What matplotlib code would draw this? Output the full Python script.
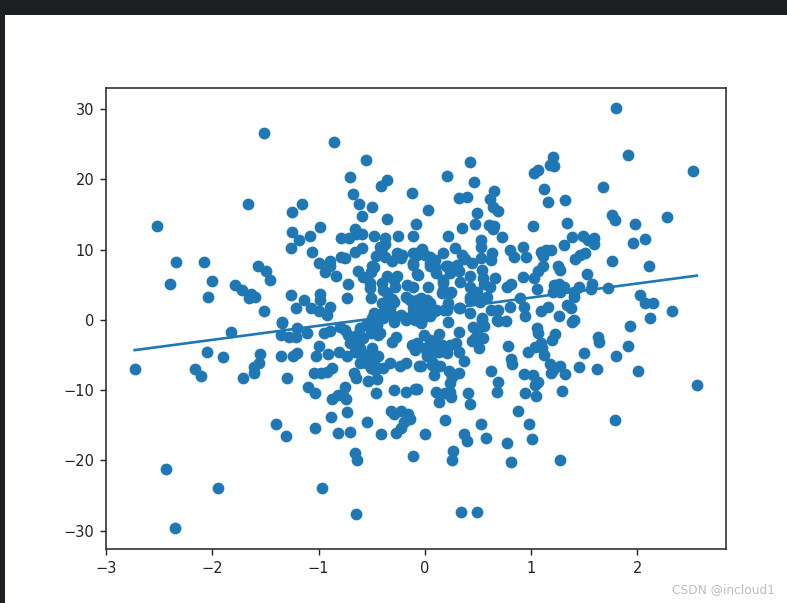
import matplotlib
matplotlib.use("Agg")
import matplotlib.pyplot as plt
from matplotlib.patches import Rectangle

# points, one list per quadrant
upper_left = [
    (-1.51,26.6),(-0.85,25.3),(-0.55,22.7),(-0.70,20.3),(-0.36,19.9),(-0.41,19.1),(-0.12,18.0),(-0.68,17.9),
    (-0.62,16.5),(-0.50,16.1),(-1.66,16.5),(-1.16,16.5),(-1.25,15.4),(-0.59,14.8),(-0.36,14.3),(-0.08,13.6),
    (-2.52,13.4),(-0.99,13.2),(-1.25,12.5),(-0.66,12.9),(-0.59,12.2),(-1.08,11.9),(-1.18,11.3),(-0.79,11.6),
    (-0.71,11.6),(-0.65,12.2),(-0.48,11.9),(-0.37,11.7),(-0.25,12.0),(-0.11,12.0),(-1.26,10.2),(-1.06,9.7),
    (-0.59,10.2),(-0.66,9.7),(-0.37,10.8),(-0.40,10.2),(-2.34,8.25),(-2.08,8.25),(-0.79,9.0),(-0.75,8.8),
    (-0.89,8.4),(-1.00,8.1),(-0.46,9.1),(-0.37,9.0),(-0.26,9.5),(-0.22,8.8),(-0.11,9.5),(-0.11,7.8),
    (-1.57,7.7),(-1.49,7.0),(-1.46,5.7),(-0.89,7.7),(-0.94,6.8),(-0.84,6.3),(-0.63,7.0),(-0.50,7.7),
    (-0.51,6.8),(-0.58,6.1),(-2.00,5.6),(-2.40,5.1),(-1.79,4.9),(-1.72,4.2),(-1.64,3.7),(-1.60,3.2),
    (-1.65,3.1),(-2.04,3.3),(-0.72,5.1),(-0.73,3.1),(-1.26,3.5),(-0.99,3.7),(-0.99,2.8),(-1.14,2.8),
    (-1.21,1.7),(-1.07,1.7),(-1.00,1.3),(-0.89,1.85),(-0.92,0.75),(-1.51,1.2),(-0.52,5.2),(-0.52,4.5),
    (-0.51,3.1),(-0.36,6.2),(-0.29,5.7),(-0.40,5.2),(-0.39,4.3),(-0.36,3.8),(-0.28,4.7),(-0.17,5.0),
    (-0.11,4.7),(-0.18,3.3),(-0.07,2.8),(-0.29,2.6),(-0.40,2.4),(-0.33,1.7),(-0.48,0.95),(-0.40,0.95),
    (-0.31,0.7),(-0.11,1.7),(-0.06,1.7),(-0.08,9.5),(-0.07,6.6),(-0.50,0.25),(-0.39,0.25),(-0.18,0.0),
    (-0.09,0.0),(-0.07,9.2),(-0.06,6.4),(-0.07,2.4),(-0.06,0.5),
]
upper_right = [
    (1.80,30.1),(1.91,23.4),(2.52,21.2),(1.21,23.2),(1.22,21.9),(1.18,22.0),(1.07,21.4),(1.03,20.9),
    (0.43,22.5),(0.21,20.5),(0.46,19.6),(1.68,18.9),(1.12,18.6),(0.65,18.3),(0.32,17.3),(0.40,17.5),
    (0.61,17.2),(1.16,16.8),(1.32,17.0),(0.64,16.1),(0.69,15.5),(0.03,15.7),(0.49,15.2),(1.76,14.9),
    (1.79,14.2),(2.28,14.7),(0.47,13.6),(0.60,13.5),(0.65,13.4),(0.64,12.9),(0.35,13.1),(1.02,13.4),
    (1.34,13.8),(1.98,13.6),(0.22,12.0),(0.73,11.8),(1.39,11.8),(1.49,12.0),(1.59,11.7),(2.07,11.5),
    (1.96,10.9),(1.59,10.8),(1.31,10.6),(0.53,11.3),(0.53,10.4),(0.92,10.4),(1.54,11.3),(0.80,9.9),
    (-0.03,10.1),(0.28,10.2),(0.35,9.2),(0.84,9.0),(0.95,9.0),(1.09,9.7),(1.14,9.9),(1.19,9.9),
    (1.11,9.1),(1.51,9.5),(1.46,9.2),(1.41,8.6),(1.76,8.4),(2.11,7.7),(0.17,9.5),(0.63,9.5),
    (0.53,8.8),(0.62,8.5),(0.44,8.1),(0.05,9.0),(0.0,9.2),(0.10,8.5),(0.05,7.6),(0.22,7.6),
    (0.32,6.9),(0.54,7.1),(1.11,7.7),(1.25,7.7),(1.27,7.1),(1.07,7.0),(1.03,5.9),(1.53,6.6),
    (0.92,6.1),(0.66,5.9),(0.43,6.3),(0.17,5.7),(0.33,5.4),(0.81,5.1),(0.77,4.7),(0.56,5.1),
    (0.61,4.7),(1.22,4.9),(1.26,5.1),(1.31,4.7),(1.57,5.1),(1.45,4.7),(1.56,4.4),(1.06,4.4),
    (1.72,4.5),(1.21,4.0),(1.27,4.0),(0.03,4.7),(0.17,4.3),(0.25,4.0),(0.43,4.7),(0.49,3.9),
    (1.40,4.0),(2.03,3.5),(2.15,2.4),(2.07,2.4),(2.33,1.2),(2.12,0.25),(1.40,3.2),(1.34,2.1),
    (1.38,1.7),(1.16,1.9),(1.09,1.2),(1.26,0.6),(1.40,0.0),(0.90,3.1),(0.93,1.9),(0.94,0.5),
    (0.80,1.9),(0.69,1.4),(0.59,3.2),(0.47,3.8),(0.43,2.8),(0.54,0.25),(0.32,1.7),(0.22,2.4),
    (0.16,3.8),(0.02,2.8),(-0.01,1.4),(0.10,1.2),(0.18,1.4),(0.05,0.5),(0.68,0.0),
]
lower_left = [
    (-2.73,-7.0),(-1.82,-1.7),(-2.05,-4.5),(-1.90,-5.3),(-2.16,-7.0),(-2.11,-8.0),(-1.71,-8.25),(-1.61,-7.6),
    (-1.61,-6.7),(-1.56,-6.2),(-1.55,-4.9),(-1.35,-5.1),(-1.24,-5.1),(-1.20,-4.7),(-1.34,-0.5),(-1.35,-2.2),
    (-1.28,-2.4),(-1.21,-2.4),(-1.20,-1.2),(-1.11,-1.9),(-0.95,-1.9),(-0.89,-1.6),(-1.00,-3.7),(-1.02,-5.2),
    (-0.91,-4.9),(-0.81,-4.5),(-0.73,-5.2),(-1.30,-8.25),(-1.04,-7.6),(-0.98,-7.5),(-0.92,-7.4),(-0.87,-6.9),
    (-0.67,-7.6),(-0.65,-8.3),(-1.10,-9.5),(-1.03,-10.4),(-0.87,-11.3),(-0.82,-10.7),(-0.75,-9.6),(-0.77,-10.7),
    (-0.74,-11.3),(-0.53,-8.7),(-0.45,-8.4),(-0.46,-10.4),(-0.29,-10.0),(-0.18,-10.3),(-0.09,-9.8),(-0.73,-13.1),
    (-0.88,-13.8),(-1.40,-14.8),(-1.31,-16.5),(-1.03,-15.4),(-0.82,-16.1),(-0.70,-15.9),(-0.54,-14.5),(-0.41,-16.3),
    (-0.27,-16.1),(-0.22,-15.4),(-0.32,-12.9),(-0.29,-13.4),(-0.22,-12.9),(-0.16,-13.4),(-0.14,-14.1),(-0.20,-14.5),
    (-0.66,-18.9),(-0.64,-20.0),(-0.11,-19.3),(-2.44,-21.2),(-1.95,-23.9),(-0.97,-23.9),(-0.65,-27.6),(-2.35,-29.6),
    (-0.31,-3.1),(-0.27,-2.5),(-0.12,-3.6),(-0.09,-4.3),(-0.33,-6.2),(-0.23,-6.6),(-0.18,-6.2),(-0.05,-6.6),
    (-0.39,-6.9),(-0.47,-7.1),(-0.67,-3.6),(-0.61,-4.0),(-0.55,-5.0),(-0.50,-4.0),(-0.58,-2.6),(-0.51,-1.9),
    (-0.64,-2.1),(-0.55,-0.7),(-0.45,-0.7),(-0.44,-2.1),(-0.75,-1.4),(-0.80,-0.95),(-0.72,-2.1),(-0.58,-5.4),
    (-0.48,-5.9),(-0.51,-6.9),(-0.62,-4.7),(-0.55,-6.2),(-0.45,-6.9),(-0.29,-0.25),(-0.04,-0.25),(-1.34,-0.3),
    (-0.04,-0.4),(-0.01,-2.1),(-0.07,-3.3),(-0.04,-6.6),(-0.07,-9.8),
]
lower_right = [
    (2.56,-9.3),(1.79,-14.3),(0.34,-27.3),(0.49,-27.3),(1.27,-19.9),(0.81,-20.2),(0.77,-17.5),(1.01,-17.0),
    (0.98,-14.8),(0.88,-12.9),(0.58,-16.8),(0.53,-14.8),(0.37,-16.2),(0.40,-17.2),(0.27,-18.7),(0.26,-20.0),
    (0.0,-16.3),(0.19,-14.3),(0.43,-11.9),(0.41,-10.4),(0.25,-11.0),(0.13,-11.7),(0.11,-10.2),(0.19,-10.4),
    (0.24,-10.2),(0.24,-9.0),(0.68,-10.2),(0.69,-8.8),(0.94,-10.4),(1.05,-10.8),(1.29,-10.1),(1.07,-8.9),
    (1.04,-9.3),(1.02,-7.9),(0.93,-7.7),(0.62,-7.2),(2.01,-7.2),(1.62,-7.0),(1.45,-6.7),(1.32,-7.7),
    (1.19,-7.6),(1.27,-6.6),(1.18,-6.3),(1.21,-7.1),(1.12,-5.0),(1.80,-5.1),(1.91,-3.7),(1.50,-4.7),
    (1.64,-3.1),(1.63,-2.5),(1.93,-0.8),(1.39,-0.3),(1.23,-2.0),(1.20,-2.8),(1.06,-1.1),(1.07,-1.9),
    (1.09,-3.3),(1.04,-3.8),(1.10,-4.0),(0.97,-4.55),(0.78,-3.7),(0.81,-5.5),(0.82,-6.3),(0.76,-0.1),
    (0.69,-0.2),(0.54,0.0),(0.56,-0.8),(0.45,-0.95),(0.49,-1.4),(0.55,-2.6),(0.44,-3.0),(0.47,-2.6),
    (0.51,-4.0),(0.22,-0.3),(0.0,0.5),(0.13,-2.0),(0.32,-1.75),(0.29,-3.3),(0.24,-3.6),(0.18,-3.8),
    (0.13,-4.5),(0.21,-4.7),(0.32,-4.5),(0.37,-5.8),(0.0,-4.0),(0.02,-4.7),(0.07,-6.4),(0.14,-6.5),
    (0.09,-7.8),(0.23,-7.3),(0.32,-7.6),(0.26,-8.1),
]
# dense middle
middle = [
    (-0.42,10.4),(-0.31,8.4),(-0.21,9.2),(-0.05,9.5),(0.05,8.1),(-0.11,8.1),(0.11,6.7),(-0.48,7.5),
    (-0.26,6.2),(-0.04,3.1),(-0.14,2.8),(0.05,2.4),(0.11,1.4),(-0.11,1.0),(-0.01,1.0),(-0.22,0.7),
    (-0.31,3.0),(0.30,7.8),(0.20,7.7),(0.24,6.7),(0.17,5.2),(0.24,3.8),(0.43,3.3),(0.52,2.6),
    (0.33,1.7),(0.21,1.4),(0.62,1.4),(0.43,1.0),(0.10,7.5),(0.38,8.6),(0.55,6.0),(-0.70,-3.3),
    (-0.61,-1.1),(-0.63,-2.8),(-0.66,-4.5),(-0.51,-4.7),(-0.56,-5.4),(-0.61,-6.1),(-0.50,-6.8),(-0.44,-5.2),
    (-0.42,-1.9),(0.08,-6.1),(0.11,-4.5),(0.02,-5.2),(0.16,-3.6),(0.10,-3.0),(0.06,-3.6),(0.05,-2.9),
]

line_x = [-2.73, 2.56]
line_y = [-4.3, 6.3]

x_ticks = [-3, -2, -1, 0, 1, 2]
y_ticks = [-30, -20, -10, 0, 10, 20, 30]

W, H = 787, 603

points = upper_left + upper_right + lower_left + lower_right + middle
xs = [p[0] for p in points]
ys = [p[1] for p in points]

fig = plt.figure(figsize=(W / 100, H / 100), dpi=100)

# dark editor strip along the top and left of the screenshot
dark = "#1e1f22"
fig.add_artist(Rectangle((0, 1 - 15 / H), 1, 15 / H, transform=fig.transFigure, color=dark, lw=0))
fig.add_artist(Rectangle((0, 0), 5 / W, 1, transform=fig.transFigure, color=dark, lw=0))

ax = fig.add_axes([106 / W, (H - 549) / H, (725.5 - 106) / W, (549 - 88) / H])
ax.scatter(xs, ys, s=72, color="#1f77b4", linewidths=0)
ax.plot(line_x, line_y, color="#1f77b4", lw=1.9)
ax.set_xlim(-3.0, 2.83)
ax.set_ylim(-32.6, 33)
ax.set_xticks(x_ticks)
ax.set_yticks(y_ticks)
ax.tick_params(labelsize=10.5, length=4.5, width=1.0, color="#222222", labelcolor="#222222", pad=4)
for s in ax.spines.values():
    s.set_linewidth(1.2)
    s.set_color("#333333")

fig.text(775 / W, 1 - 590 / H, "CSDN @incloud1", ha="right", va="center",
         fontsize=8.8, color="#bcbcbc")

fig.savefig("out.png", dpi=100)
